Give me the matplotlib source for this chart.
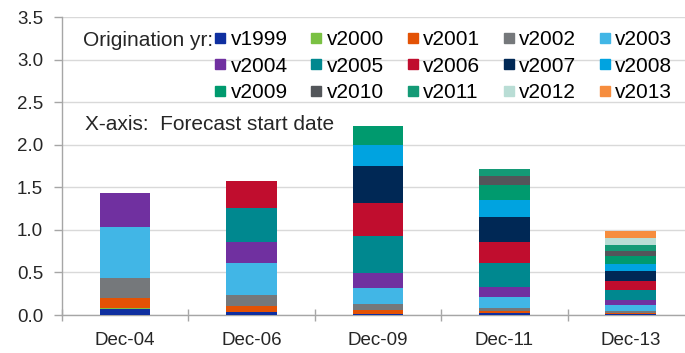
import matplotlib
matplotlib.use("Agg")
import matplotlib.pyplot as plt
from matplotlib.lines import Line2D
import numpy as np

plt.rcParams['font.family'] = ['Liberation Sans', 'DejaVu Sans']

dates = ["Dec-04", "Dec-06", "Dec-09", "Dec-11", "Dec-13"]
vintages = ["v1999", "v2000", "v2001", "v2002", "v2003", "v2004", "v2005", "v2006",
            "v2007", "v2008", "v2009", "v2010", "v2011", "v2012", "v2013"]
colors = ["#0F2FA0", "#7AC143", "#E35205", "#75787B", "#41B6E6", "#7030A0", "#00888F",
          "#C00D2E", "#002855", "#00A3E0", "#009A6E", "#53565A", "#149A76", "#B9DDD5", "#F68D3E"]

# stacked contributions per vintage for each forecast start date
v1999 = [0.067, 0.030, 0.015, 0.020, 0.010]
v2000 = [0.010, 0.000, 0.000, 0.000, 0.000]
v2001 = [0.120, 0.075, 0.040, 0.027, 0.010]
v2002 = [0.240, 0.133, 0.070, 0.040, 0.030]
v2003 = [0.595, 0.370, 0.195, 0.130, 0.067]
v2004 = [0.400, 0.255, 0.176, 0.110, 0.060]
v2005 = [0.000, 0.400, 0.430, 0.280, 0.117]
v2006 = [0.000, 0.310, 0.390, 0.255, 0.110]
v2007 = [0.000, 0.000, 0.430, 0.290, 0.117]
v2008 = [0.000, 0.000, 0.255, 0.196, 0.078]
v2009 = [0.000, 0.000, 0.223, 0.176, 0.090]
v2010 = [0.000, 0.000, 0.000, 0.110, 0.067]
v2011 = [0.000, 0.000, 0.000, 0.086, 0.067]
v2012 = [0.000, 0.000, 0.000, 0.000, 0.082]
v2013 = [0.000, 0.000, 0.000, 0.000, 0.086]
series = [v1999, v2000, v2001, v2002, v2003, v2004, v2005, v2006,
          v2007, v2008, v2009, v2010, v2011, v2012, v2013]

y_ticks = [0.0, 0.5, 1.0, 1.5, 2.0, 2.5, 3.0, 3.5]

fig = plt.figure(figsize=(6.85, 3.53), dpi=100)
ax = fig.add_axes([0.0905, 0.1076, 0.9226, 0.844])

x = np.arange(len(dates))
bottom = np.zeros(len(dates))
handles = []
for name, vals, col in zip(vintages, series, colors):
    vals = np.array(vals)
    ax.bar(x, vals, width=0.40, bottom=bottom, color=col, linewidth=0, zorder=3)
    bottom += vals
    handles.append(Line2D([], [], marker='s', linestyle='none', markersize=7.2,
                          markerfacecolor=col, markeredgecolor=col, label=name))

ax.set_xlim(-0.5, len(dates) - 0.5)
ax.set_ylim(0, 3.5)
ax.set_yticks(y_ticks)
ax.set_yticklabels([f"{t:.1f}" for t in y_ticks], fontsize=13.5, color="#262626")
ax.yaxis.grid(True, color="#d9d9d9", linewidth=1.0, zorder=0)
ax.set_axisbelow(True)

ax.set_xticks(x)
ax.set_xticklabels(dates, fontsize=13.5, color="#262626")
ax.tick_params(axis='x', length=0, pad=12)
ax.set_xticks(np.arange(-0.5, len(dates) + 0.5, 1), minor=True)
ax.tick_params(axis='x', which='minor', direction='inout', length=9, color="#a6a6a6", width=1)
ax.tick_params(axis='y', direction='out', length=5.5, color="#a6a6a6", width=1, pad=8)

for s in ["top", "right"]:
    ax.spines[s].set_visible(False)
for s in ["left", "bottom"]:
    ax.spines[s].set_color("#a6a6a6")
    ax.spines[s].set_linewidth(1.0)

# legend laid out row by row: reorder for column-major filling
nrow, ncol = 3, 5
ordered = [handles[r * ncol + c] for c in range(ncol) for r in range(nrow)]
fig.legend(handles=ordered, ncol=ncol, loc="upper left",
           bbox_to_anchor=(215 / 685, 1 - 30 / 353), frameon=False,
           fontsize=15, handlelength=0.5, handletextpad=0.25,
           columnspacing=1.12, labelspacing=0.37, borderpad=0, borderaxespad=0)
fig.text(213 / 685, 1 - 40 / 353, "Origination yr:", fontsize=15, ha="right",
         va="center", color="#262626")
fig.text(85 / 685, 1 - 124 / 353, "X-axis:  Forecast start date", fontsize=15,
         ha="left", va="center", color="#262626")

fig.savefig("out.png", dpi=100)
